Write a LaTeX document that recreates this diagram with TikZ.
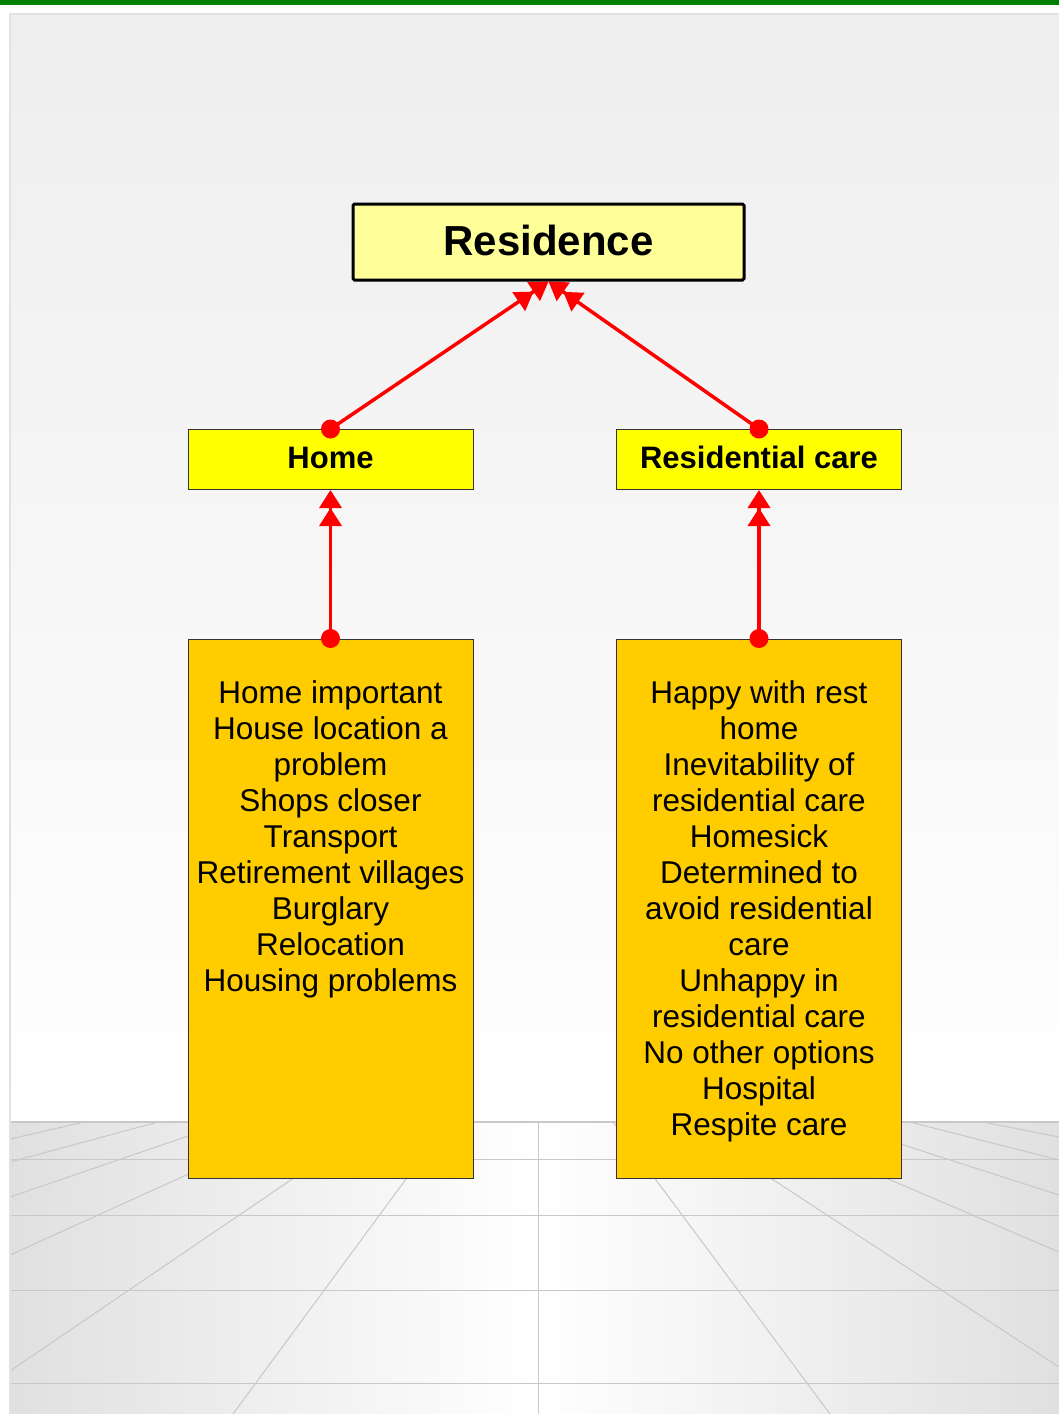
\documentclass[tikz,border=0pt]{standalone}
\usepackage{fontspec}
\setmainfont{Liberation Sans}
\usetikzlibrary{arrows.meta}

\definecolor{barGreen}{HTML}{008000}
\definecolor{wallTop}{HTML}{EEEEEE}
\definecolor{wallEdge}{HTML}{E2E2E2}
\definecolor{floorEdge}{HTML}{E0E0E0}
\definecolor{gridGray}{HTML}{C8C8C8}
\definecolor{paleYellow}{HTML}{FFFF99}
\definecolor{brightYellow}{HTML}{FFFF00}
\definecolor{amber}{HTML}{FFCC00}
\definecolor{boxEdge}{HTML}{333333}

\tikzset{
  titlebox/.style={draw=black, line width=3pt, rounded corners=1.5pt, fill=paleYellow,
    minimum width=391pt, minimum height=76pt, inner sep=0pt},
  headbox/.style={draw=boxEdge, line width=1pt, fill=brightYellow,
    minimum width=285pt, minimum height=60pt, inner sep=0pt},
  listbox/.style={draw=boxEdge, line width=1pt, fill=amber,
    minimum width=285pt, minimum height=539pt, inner sep=0pt},
  listtext/.style={anchor=north, inner sep=0pt, align=center,
    font=\fontsize{31.5}{36}\selectfont},
  label/.style={inner sep=0pt, yshift=2pt},
  link/.style={draw=red, line width=3.5pt,
    -{Triangle[length=18pt,width=22pt]Triangle[length=18pt,width=22pt]}},
  dot/.style={fill=red},
  gridline/.style={draw=gridGray, line width=1pt},
}

\begin{document}
\begin{tikzpicture}[x=1pt, y=-1pt]
  \useasboundingbox (0,0) rectangle (1059,1414);
  \fill[white] (0,0) rectangle (1059,1414);

  % green strip along the top edge
  \fill[barGreen] (0,0) rectangle (1059,5);

  % back wall
  \shade[top color=wallTop, bottom color=white] (10,14) rectangle (1059,1122);

  % floor
  \shade[left color=floorEdge, right color=floorEdge, middle color=white]
    (10,1122) rectangle (1059,1414);

  % floor tiling
  \draw[gridline, line width=2pt] (10,1122) -- (1059,1122);
  \foreach \y in {1159,1215,1290,1383}
    \draw[gridline] (10,\y) -- (1059,\y);
  \draw[gridline] (538,1122) -- (538,1414);
  \draw[gridline] (10,1139) -- (84,1122);
  \draw[gridline] (10,1162) -- (158,1122);
  \draw[gridline] (10,1197) -- (229,1122);
  \draw[gridline] (10,1255) -- (303,1122);
  \draw[gridline] (10,1371) -- (376,1122);
  \draw[gridline] (233,1414) -- (448,1122);
  \draw[gridline] (1059,1137) -- (983,1122);
  \draw[gridline] (1059,1160) -- (910,1122);
  \draw[gridline] (1059,1195) -- (832,1122);
  \draw[gridline] (1059,1252) -- (755,1122);
  \draw[gridline] (1059,1367) -- (685,1122);
  \draw[gridline] (830,1414) -- (613,1122);

  % room outline
  \draw[wallEdge, line width=1.5pt] (10,1414) -- (10,14) -- (1059,14);

  % boxes
  \node[titlebox] (residence) at (548.5,242) {};
  \node[headbox] (home) at (330.5,459.5) {};
  \node[headbox] (care) at (759,459.5) {};
  \node[listbox] (homeList) at (330.5,908.5) {};
  \node[listbox] (careList) at (759,908.5) {};

  % box captions
  \node[label, font=\fontsize{42}{48}\selectfont\bfseries] (residenceText) at (residence.center) {Residence};
  \node[label, font=\fontsize{31}{36}\selectfont\bfseries] (homeLabel) at (home.center) {Home};
  \node[label, font=\fontsize{31}{36}\selectfont\bfseries] (careLabel) at (care.center) {Residential care};

  \node[listtext] (homeText) at (330.5,680) {Home important\\House location a\\problem\\Shops closer\\Transport\\Retirement villages\\Burglary\\Relocation\\Housing problems};
  \node[listtext] (careText) at (759,680) {Happy with rest\\home\\Inevitability of\\residential care\\Homesick\\Determined to\\avoid residential\\care\\Unhappy in\\residential care\\No other options\\Hospital\\Respite care};

  % connectors
  \draw[link] (homeList.north) -- (home.south);
  \draw[link] (careList.north) -- (care.south);
  \draw[link] (home.north) -- (residence.south);
  \draw[link] (care.north) -- (residence.south);

  \fill[dot] (homeList.north) circle (9.5);
  \fill[dot] (careList.north) circle (9.5);
  \fill[dot] (home.north) circle (9.5);
  \fill[dot] (care.north) circle (9.5);
\end{tikzpicture}
\end{document}
